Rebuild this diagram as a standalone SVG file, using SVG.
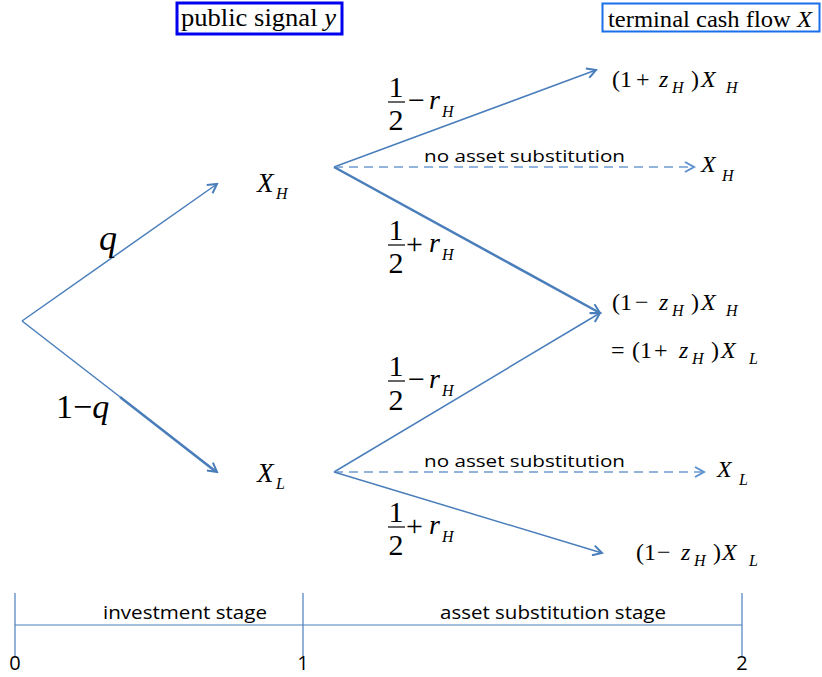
<svg xmlns="http://www.w3.org/2000/svg" width="822" height="677" viewBox="0 0 822 677" font-family="Liberation Serif, serif">
<defs>
<marker id="ah" viewBox="0 0 12 12" refX="10" refY="6" markerWidth="12" markerHeight="12" markerUnits="userSpaceOnUse" orient="auto">
<path d="M1,1 L10,6 L1,11" fill="none" stroke="#4a7ebb" stroke-width="2"/>
</marker>
<marker id="ahd" viewBox="0 0 12 12" refX="10" refY="6" markerWidth="12" markerHeight="12" markerUnits="userSpaceOnUse" orient="auto">
<path d="M1,1 L10,6 L1,11" fill="none" stroke="#5b8fd0" stroke-width="2"/>
</marker>
</defs>
<style>
.ln{stroke:#4a7ebb;stroke-width:1.5;fill:none}
.th{stroke:#4a7ebb;stroke-width:2.5;fill:none}
.ds{stroke:#6f9ad0;stroke-width:1.5;fill:none;stroke-dasharray:9,6}
.tl{stroke:#4a7ebb;stroke-width:1.2;fill:none}
.m{font-family:'Liberation Serif',serif;font-size:24px;fill:#000}
.fr{font-family:'Liberation Serif',serif;font-size:30px;fill:#000}
.n{font-family:'Liberation Serif',serif;font-size:27px;font-style:italic;fill:#000}
.i{font-style:italic}
.s{font-family:'Liberation Serif',serif;font-size:16px;font-style:italic;fill:#000}
.c{font-family:'Open Sans','Liberation Sans',sans-serif;font-size:17px;fill:#000}
.bar{stroke:#000;stroke-width:1.2}
</style>
<g id="box-signal">
<rect x="177" y="3" width="165" height="31" fill="#fff" stroke="#0000ee" stroke-width="3"/>
<text x="181" y="26" class="m" style="font-size:25px" textLength="155" lengthAdjust="spacingAndGlyphs">public signal <tspan class="i">y</tspan></text>
</g>
<g id="box-terminal">
<rect x="602.5" y="3.5" width="217" height="28" fill="#fff" stroke="#1a6fe8" stroke-width="2"/>
<text x="608" y="27" class="m" textLength="204" lengthAdjust="spacingAndGlyphs">terminal cash flow <tspan class="i">X</tspan></text>
</g>
<g id="connectors">
<line x1="22" y1="321" x2="217" y2="184" class="ln" marker-end="url(#ah)"/>
<line x1="22" y1="321" x2="217" y2="472" class="ln" marker-end="url(#ah)"/>
<line x1="120" y1="397" x2="215" y2="471" class="th"/>
<line x1="334" y1="167" x2="596" y2="70" class="ln" marker-end="url(#ah)"/>
<line x1="334" y1="167" x2="694" y2="167" class="ds" marker-end="url(#ahd)"/>
<line x1="334" y1="167" x2="600" y2="313" class="th" marker-end="url(#ah)"/>
<line x1="334" y1="472" x2="600" y2="313" class="ln" marker-end="url(#ah)"/>
<line x1="334" y1="472" x2="704" y2="472" class="ds" marker-end="url(#ahd)"/>
<line x1="334" y1="472" x2="602" y2="553" class="ln" marker-end="url(#ah)"/>
</g>
<g id="edge-labels">
<text x="99" y="250" class="fr i" style="font-size:36px">q</text>
<text x="56" y="418" class="fr" style="font-size:34px">1−<tspan class="i">q</tspan></text>
<g id="lab-h-up">
<text x="396" y="97" class="fr" text-anchor="middle">1</text><line x1="388" y1="102" x2="405" y2="102" class="bar"/><text x="396" y="130" class="fr" text-anchor="middle">2</text>
<text x="408" y="110" class="fr">−</text><text x="429" y="109" class="fr i" style="font-size:28px">r</text><text x="442" y="117" class="s">H</text>
</g>
<g id="lab-h-down">
<text x="396" y="240" class="fr" text-anchor="middle">1</text><line x1="388" y1="245" x2="405" y2="245" class="bar"/><text x="396" y="273" class="fr" text-anchor="middle">2</text>
<text x="406" y="254" class="fr">+</text><text x="429" y="252" class="fr i" style="font-size:28px">r</text><text x="442" y="260" class="s">H</text>
</g>
<g id="lab-l-up">
<text x="396" y="376" class="fr" text-anchor="middle">1</text><line x1="388" y1="381" x2="405" y2="381" class="bar"/><text x="396" y="410" class="fr" text-anchor="middle">2</text>
<text x="408" y="389" class="fr">−</text><text x="429" y="388" class="fr i" style="font-size:28px">r</text><text x="442" y="396" class="s">H</text>
</g>
<g id="lab-l-down">
<text x="396" y="522" class="fr" text-anchor="middle">1</text><line x1="388" y1="527" x2="405" y2="527" class="bar"/><text x="396" y="555" class="fr" text-anchor="middle">2</text>
<text x="406" y="536" class="fr">+</text><text x="429" y="534" class="fr i" style="font-size:28px">r</text><text x="442" y="542" class="s">H</text>
</g>
<text x="424" y="162" class="c" textLength="201" lengthAdjust="spacingAndGlyphs">no asset substitution</text>
<text x="424" y="467" class="c" textLength="201" lengthAdjust="spacingAndGlyphs">no asset substitution</text>
</g>
<g id="node-XH"><text x="257" y="192" class="n">X</text><text x="276" y="199" class="s">H</text></g>
<g id="node-XL"><text x="257" y="482" class="n">X</text><text x="276" y="489" class="s">L</text></g>
<g id="out-1"><text x="612" y="87" class="m">(1</text><text x="636" y="87" class="m">+</text><text x="659" y="87" class="m i">z</text><text x="672" y="93" class="s">H</text><text x="691" y="87" class="m">)</text><text x="701" y="87" class="m i">X</text><text x="726" y="93" class="s">H</text></g>
<g id="out-2"><text x="701" y="172" class="m i">X</text><text x="722" y="181" class="s">H</text></g>
<g id="out-3"><text x="612" y="310" class="m">(1</text><text x="635" y="310" class="m">−</text><text x="659" y="310" class="m i">z</text><text x="672" y="316" class="s">H</text><text x="691" y="310" class="m">)</text><text x="701" y="310" class="m i">X</text><text x="726" y="316" class="s">H</text></g>
<g id="out-3b"><text x="611" y="358" class="m">=</text><text x="632" y="358" class="m">(1</text><text x="654" y="358" class="m">+</text><text x="679" y="358" class="m i">z</text><text x="692" y="364" class="s">H</text><text x="711" y="358" class="m">)</text><text x="721" y="358" class="m i">X</text><text x="749" y="364" class="s">L</text></g>
<g id="out-4"><text x="717" y="477" class="m i">X</text><text x="739" y="485" class="s">L</text></g>
<g id="out-5"><text x="636" y="560" class="m">(1</text><text x="657" y="560" class="m">−</text><text x="681" y="560" class="m i">z</text><text x="694" y="566" class="s">H</text><text x="713" y="560" class="m">)</text><text x="722" y="560" class="m i">X</text><text x="749" y="566" class="s">L</text></g>
<g id="timeline">
<line x1="15" y1="625" x2="742" y2="625" class="tl"/>
<line x1="15" y1="593" x2="15" y2="656" class="tl"/>
<line x1="303" y1="593" x2="303" y2="656" class="tl"/>
<line x1="742" y1="593" x2="742" y2="656" class="tl"/>
<text x="103" y="619" class="c" style="font-size:18px" textLength="164" lengthAdjust="spacingAndGlyphs">investment stage</text>
<text x="440" y="619" class="c" style="font-size:18px" textLength="226" lengthAdjust="spacingAndGlyphs">asset substitution stage</text>
<text x="15" y="670" class="c" style="font-size:20px" text-anchor="middle">0</text>
<text x="303" y="670" class="c" style="font-size:20px" text-anchor="middle">1</text>
<text x="742" y="670" class="c" style="font-size:20px" text-anchor="middle">2</text>
</g>
</svg>
